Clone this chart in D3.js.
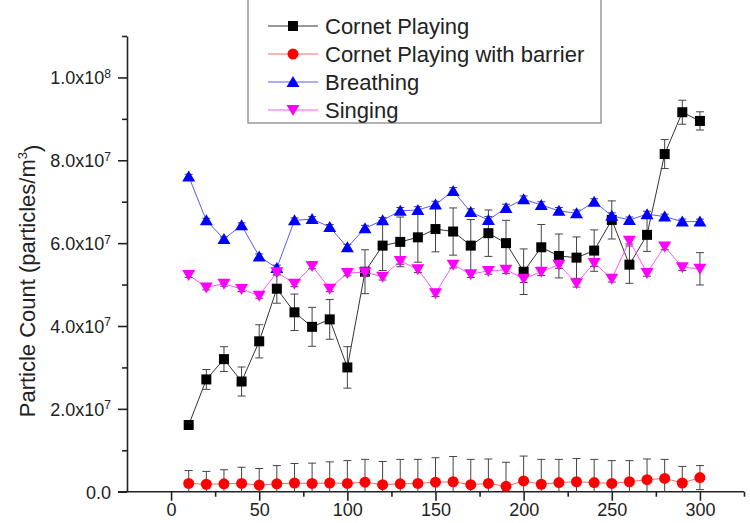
<!DOCTYPE html>
<html lang="en">
<head>
    <meta charset="UTF-8">
    <title>Particle Count</title>
    <script src="https://d3js.org/d3.v7.min.js"></script>
    <style>
        body { margin: 0; background: #fff; }
        svg { font-family: "Liberation Sans", Arial, sans-serif; }
        .axis text { font-size: 18px; fill: #222; }
        .axis path, .axis line { stroke: #222; stroke-width: 1.6px; }
    </style>
</head>
<body>
<div id="chart"></div>
<script>
    // time points (x)
    const times = [10, 20, 30, 40, 50, 60, 70, 80, 90, 100, 110, 120, 130, 140, 150,
                   160, 170, 180, 190, 200, 210, 220, 230, 240, 250, 260, 270, 280, 290, 300];

    const cornet = [1.61e7, 2.71e7, 3.20e7, 2.66e7, 3.63e7, 4.90e7, 4.33e7, 3.98e7, 4.16e7, 3.00e7,
                    5.31e7, 5.94e7, 6.03e7, 6.14e7, 6.34e7, 6.28e7, 5.94e7, 6.24e7, 6.00e7, 5.31e7,
                    5.90e7, 5.69e7, 5.65e7, 5.82e7, 6.56e7, 5.48e7, 6.20e7, 8.15e7, 9.16e7, 8.95e7];
    const cornetErr = [1.0e6, 2.4e6, 3.0e6, 3.5e6, 4.0e6, 3.5e6, 4.4e6, 4.7e6, 4.8e6, 5.0e6,
                       5.3e6, 6.0e6, 6.0e6, 6.0e6, 5.5e6, 5.7e6, 6.3e6, 5.6e6, 5.5e6, 5.5e6,
                       5.5e6, 5.3e6, 5.0e6, 5.0e6, 4.6e6, 4.5e6, 4.0e6, 3.5e6, 2.9e6, 2.2e6];

    const barrier = [2.0e6, 1.8e6, 1.9e6, 2.0e6, 1.6e6, 1.9e6, 2.1e6, 2.0e6, 2.1e6, 2.0e6,
                     2.3e6, 1.7e6, 1.9e6, 2.0e6, 2.3e6, 2.4e6, 1.7e6, 2.0e6, 1.3e6, 2.6e6,
                     1.8e6, 2.2e6, 2.4e6, 2.2e6, 2.0e6, 2.4e6, 2.9e6, 3.2e6, 2.1e6, 3.4e6];
    const barrierErr = [3.1e6, 3.1e6, 3.4e6, 3.9e6, 4.0e6, 4.4e6, 4.7e6, 4.9e6, 5.1e6, 5.5e6,
                        5.5e6, 5.6e6, 5.9e6, 5.8e6, 5.9e6, 6.1e6, 6.1e6, 5.9e6, 5.8e6, 6.0e6,
                        6.0e6, 5.6e6, 5.6e6, 5.6e6, 5.5e6, 5.1e6, 5.0e6, 4.6e6, 4.0e6, 2.9e6];

    const breathing = [7.61e7, 6.55e7, 6.10e7, 6.43e7, 5.68e7, 5.40e7, 6.55e7, 6.58e7, 6.39e7, 5.90e7,
                       6.36e7, 6.55e7, 6.78e7, 6.80e7, 6.93e7, 7.26e7, 6.75e7, 6.56e7, 6.85e7, 7.06e7,
                       6.92e7, 6.78e7, 6.72e7, 7.00e7, 6.66e7, 6.56e7, 6.70e7, 6.64e7, 6.52e7, 6.52e7];
    const breathingErr = [5e5, 5e5, 5e5, 6e5, 6e5, 7e5, 6e5, 6e5, 6e5, 7e5,
                          7e5, 7e5, 8e5, 8e5, 8e5, 8e5, 8e5, 8e5, 9e5, 8e5,
                          8e5, 8e5, 8e5, 7e5, 7e5, 7e5, 7e5, 6e5, 6e5, 6e5];

    const singing = [5.23e7, 4.93e7, 5.02e7, 4.89e7, 4.73e7, 5.30e7, 5.02e7, 5.45e7, 4.90e7, 5.28e7,
                     5.30e7, 5.19e7, 5.57e7, 5.37e7, 4.79e7, 5.48e7, 5.25e7, 5.33e7, 5.36e7, 5.14e7,
                     5.31e7, 5.48e7, 5.03e7, 5.52e7, 5.14e7, 6.06e7, 5.28e7, 5.92e7, 5.42e7, 5.38e7];
    const singingErr = [6e5, 6e5, 6e5, 6e5, 6e5, 7e5, 7e5, 7e5, 7e5, 7e5,
                        8e5, 8e5, 8e5, 8e5, 8e5, 8e5, 8e5, 8e5, 9e5, 9e5,
                        9e5, 9e5, 9e5, 8e5, 8e5, 8e5, 8e5, 8e5, 8e5, 3.9e6];

    const seriesNames = ["Cornet Playing", "Cornet Playing with barrier", "Breathing", "Singing"];
    const seriesColors = ["#000000", "#ff0000", "#0000ff", "#ff00ff"];
    const seriesLines = ["#333333", "#ff6666", "#5a5aff", "#ff55ff"];
    const seriesSymbols = ["square", "circle", "up", "down"];

    const xMajor = [0, 50, 100, 150, 200, 250, 300];
    const xMinor = [25, 75, 125, 175, 225, 275, 325];
    const yMajor = [0, 2e7, 4e7, 6e7, 8e7, 1e8];
    const yMinor = [1e7, 3e7, 5e7, 7e7, 9e7, 1.1e8];

    const series = [
        { vals: cornet, errs: cornetErr },
        { vals: barrier, errs: barrierErr },
        { vals: breathing, errs: breathingErr },
        { vals: singing, errs: singingErr }
    ];

    const W = 750, H = 523;
    const svg = d3.select("#chart").append("svg")
        .attr("width", W).attr("height", H);

    const x = d3.scaleLinear().domain([-25, 325]).range([127, 744]);
    const y = d3.scaleLinear().domain([0, 1.1e8]).range([491.7, 36]);

    svg.append("defs").append("clipPath").attr("id", "plot")
        .append("rect")
        .attr("x", x(-25)).attr("y", y(1.1e8))
        .attr("width", x(325) - x(-25)).attr("height", y(0) - y(1.1e8));

    // y axis
    const yAxis = svg.append("g").attr("class", "axis")
        .attr("transform", `translate(${x(-25)},0)`)
        .call(d3.axisLeft(y).tickValues(yMajor).tickSize(9).tickSizeOuter(0).tickPadding(7)
            .tickFormat(() => ""));
    yAxis.selectAll(".tick text").each(function (d) {
        const t = d3.select(this).attr("dy", "0.36em");
        if (d === 0) { t.text("0.0"); return; }
        const e = Math.floor(Math.log10(d));
        const m = d / Math.pow(10, e);
        t.append("tspan").text(m.toFixed(1) + "x10");
        t.append("tspan").attr("dy", "-0.55em").style("font-size", "12px").text(e);
    });
    yAxis.append("g")
        .call(d3.axisLeft(y).tickValues(yMinor).tickSize(5).tickSizeOuter(0).tickFormat(() => ""))
        .call(g => g.select(".domain").remove())
        .call(g => g.selectAll("text").remove());

    // x axis
    const xAxis = svg.append("g").attr("class", "axis")
        .attr("transform", `translate(0,${y(0)})`)
        .call(d3.axisBottom(x).tickValues(xMajor).tickSize(9).tickSizeOuter(0).tickPadding(3));
    xAxis.append("g")
        .call(d3.axisBottom(x).tickValues(xMinor).tickSize(5).tickSizeOuter(0).tickFormat(() => ""))
        .call(g => g.select(".domain").remove())
        .call(g => g.selectAll("text").remove());
    xAxis.select(".domain").attr("d", `M${x(-25) - 9},0H${x(325)}`);

    // y label
    const yl = svg.append("text")
        .attr("transform", `translate(35,${281}) rotate(-90)`)
        .attr("text-anchor", "middle")
        .style("font-size", "22px").style("fill", "#222");
    yl.append("tspan").text("Particle Count (particles/m");
    yl.append("tspan").attr("dy", "-0.6em").style("font-size", "13px").text("3");
    yl.append("tspan").attr("dy", "0.6em").text(")");

    function marker(sel, kind, color) {
        if (kind === "square") {
            sel.append("rect").attr("x", -5).attr("y", -5).attr("width", 10).attr("height", 10)
                .attr("fill", color);
        } else if (kind === "circle") {
            sel.append("circle").attr("r", 5.5).attr("fill", color);
        } else if (kind === "up") {
            sel.append("path").attr("d", "M0,-6L6.5,5L-6.5,5Z").attr("fill", color);
        } else {
            sel.append("path").attr("d", "M0,6L6.5,-5L-6.5,-5Z").attr("fill", color);
        }
    }

    const plot = svg.append("g").attr("clip-path", "url(#plot)");
    const line = d3.line().x(d => x(d.t)).y(d => y(d.v));

    series.forEach((s, i) => {
        const pts = times.map((t, j) => ({ t, v: s.vals[j], e: s.errs[j] }));
        const g = plot.append("g");
        g.append("path").datum(pts).attr("d", line)
            .attr("fill", "none").attr("stroke", seriesLines[i]).attr("stroke-width", 1);
        const eb = g.selectAll(".err").data(pts).enter().append("g")
            .attr("stroke", "#444").attr("stroke-width", 1);
        eb.append("line")
            .attr("x1", d => x(d.t)).attr("x2", d => x(d.t))
            .attr("y1", d => y(d.v - d.e)).attr("y2", d => y(d.v + d.e));
        eb.append("line")
            .attr("x1", d => x(d.t) - 4).attr("x2", d => x(d.t) + 4)
            .attr("y1", d => y(d.v + d.e)).attr("y2", d => y(d.v + d.e));
        eb.append("line")
            .attr("x1", d => x(d.t) - 4).attr("x2", d => x(d.t) + 4)
            .attr("y1", d => y(d.v - d.e)).attr("y2", d => y(d.v - d.e));
        g.selectAll(".mk").data(pts).enter().append("g")
            .attr("transform", d => `translate(${x(d.t)},${y(d.v)})`)
            .each(function () { marker(d3.select(this), seriesSymbols[i], seriesColors[i]); });
    });

    // legend
    const leg = svg.append("g");
    leg.append("rect").attr("x", 248).attr("y", -3).attr("width", 353).attr("height", 126)
        .attr("fill", "#fff").attr("stroke", "#999").attr("stroke-width", 1.5);
    const legRows = [26, 54, 82, 110];
    seriesNames.forEach((name, i) => {
        const r = leg.append("g").attr("transform", `translate(0,${legRows[i]})`);
        r.append("line").attr("x1", 268).attr("x2", 318).attr("y1", 0).attr("y2", 0)
            .attr("stroke", seriesLines[i]).attr("stroke-width", 1);
        marker(r.append("g").attr("transform", "translate(293,0)"), seriesSymbols[i], seriesColors[i]);
        r.append("text").attr("x", 325).attr("y", 8)
            .style("font-size", "22px").style("fill", "#222").text(name);
    });
</script>
</body>
</html>
